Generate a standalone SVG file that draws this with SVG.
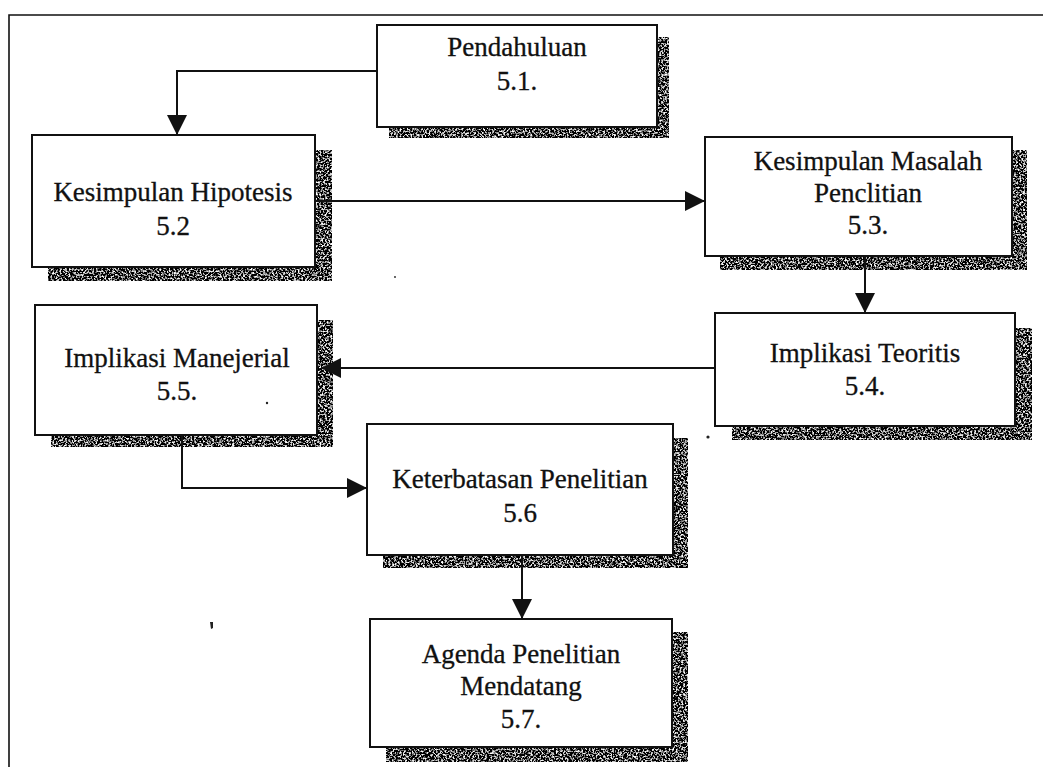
<svg xmlns="http://www.w3.org/2000/svg" width="1043" height="767" viewBox="0 0 1043 767">
  <defs>
    <style>
      .frame { fill: none; stroke: #111; stroke-width: 1.6; }
      .box { fill: #fff; stroke: #111; stroke-width: 2; }
      .shadow { fill: #888; filter: url(#grain); }
      .label { font-family: "Liberation Serif", "Times New Roman", serif; font-size: 27px; fill: #111; stroke: #111; stroke-width: 0.3; text-anchor: middle; }
      .link { fill: none; stroke: #111; stroke-width: 2; marker-end: url(#head); }
    </style>
    <!-- grainy halftone look for the drop shadows -->
    <filter id="grain" x="0" y="0" width="100%" height="100%" filterUnits="objectBoundingBox">
      <feTurbulence type="fractalNoise" baseFrequency="0.55" numOctaves="2" seed="7" result="noise"/>
      <feColorMatrix in="noise" type="matrix" values="1 0 0 0 0  1 0 0 0 0  1 0 0 0 0  0 0 0 0 1" result="gray"/>
      <feComponentTransfer in="gray" result="contrast">
        <feFuncR type="linear" slope="4" intercept="-1.95"/>
        <feFuncG type="linear" slope="4" intercept="-1.95"/>
        <feFuncB type="linear" slope="4" intercept="-1.95"/>
      </feComponentTransfer>
      <feComposite in="contrast" in2="SourceGraphic" operator="in"/>
    </filter>
    <marker id="head" viewBox="0 0 20 20" refX="20" refY="10" markerWidth="20" markerHeight="20" markerUnits="userSpaceOnUse" orient="auto">
      <path d="M0,0 L20,10 L0,20 Z" fill="#111"/>
    </marker>
  </defs>

  <rect width="1043" height="767" fill="#fff"/>

  <!-- outer frame -->
  <path class="frame" d="M9,767 V15 H1043"/>

  <!-- nodes -->
  <g id="n51">
    <rect class="shadow" x="389" y="37" width="280" height="101"/>
    <rect class="box" x="377" y="25" width="280" height="102"/>
    <text class="label" x="517" y="56">Pendahuluan</text>
    <text class="label" x="517" y="90">5.1.</text>
  </g>

  <g id="n52">
    <rect class="shadow" x="48" y="150" width="284" height="131"/>
    <rect class="box" x="32" y="135" width="283" height="132"/>
    <text class="label" x="173" y="201">Kesimpulan Hipotesis</text>
    <text class="label" x="173" y="235">5.2</text>
  </g>

  <g id="n53">
    <rect class="shadow" x="720" y="150" width="307" height="120"/>
    <rect class="box" x="705" y="137" width="307" height="119"/>
    <text class="label" x="868" y="170">Kesimpulan Masalah</text>
    <text class="label" x="868" y="202">Penclitian</text>
    <text class="label" x="868" y="234">5.3.</text>
  </g>

  <g id="n54">
    <rect class="shadow" x="732" y="328" width="300" height="112"/>
    <rect class="box" x="715" y="313" width="300" height="113"/>
    <text class="label" x="865" y="362">Implikasi Teoritis</text>
    <text class="label" x="865" y="395">5.4.</text>
  </g>

  <g id="n55">
    <rect class="shadow" x="51" y="320" width="282" height="127"/>
    <rect class="box" x="35" y="305" width="282" height="130"/>
    <text class="label" x="177" y="367">Implikasi Manejerial</text>
    <text class="label" x="177" y="400">5.5.</text>
  </g>

  <g id="n56">
    <rect class="shadow" x="383" y="438" width="305" height="130"/>
    <rect class="box" x="367" y="424" width="306" height="131"/>
    <text class="label" x="520" y="488">Keterbatasan Penelitian</text>
    <text class="label" x="520" y="522">5.6</text>
  </g>

  <g id="n57">
    <rect class="shadow" x="386" y="632" width="302" height="130"/>
    <rect class="box" x="370" y="619" width="302" height="128"/>
    <text class="label" x="521" y="663">Agenda Penelitian</text>
    <text class="label" x="521" y="695">Mendatang</text>
    <text class="label" x="521" y="728">5.7.</text>
  </g>

  <!-- connectors -->
  <g id="connectors">
    <path class="link" d="M377,71 H177 V135"/>
    <path class="link" d="M315,201 H705"/>
    <path class="link" d="M865,256 V313"/>
    <path class="link" d="M715,368 H321"/>
    <path class="link" d="M182,435 V488 H367"/>
    <path class="link" d="M522,555 V619"/>
  </g>

  <!-- small specks on the page -->
  <g id="specks" fill="#222">
    <circle cx="708" cy="437" r="1.6"/>
    <circle cx="267" cy="403" r="1.2"/>
    <circle cx="395" cy="277" r="0.9"/>
    <path d="M210,622 L213,622 L213,628 L211,629 Z"/>
  </g>
</svg>
